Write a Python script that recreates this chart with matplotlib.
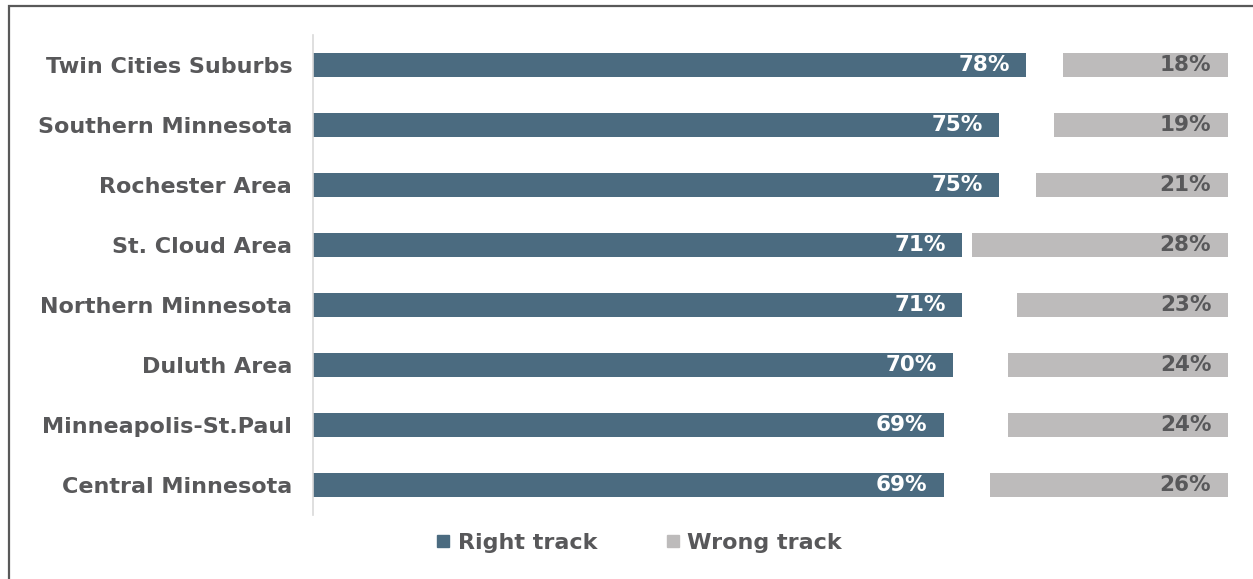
import matplotlib.pyplot as plt
from matplotlib.patches import Rectangle
from matplotlib.lines import Line2D

regions = ["Twin Cities Suburbs", "Southern Minnesota", "Rochester Area", "St. Cloud Area",
           "Northern Minnesota", "Duluth Area", "Minneapolis-St.Paul", "Central Minnesota"]
right_track = [78, 75, 75, 71, 71, 70, 69, 69]
wrong_track = [18, 19, 21, 28, 23, 24, 24, 26]
series_names = ["Right track", "Wrong track"]

BLUE = "#4B6B80"
GREY = "#BDBBBB"
TEXT = "#58585A"

plt.rcParams['font.family'] = ['DejaVu Sans']

fig = plt.figure(figsize=(12.53, 5.79), dpi=100)
ax = fig.add_axes([313 / 1253, 1 - 515 / 579, 914.6 / 1253, 480 / 579])

y = list(range(len(regions)))
bar_h = 0.39
ax.barh(y, right_track, height=bar_h, color=BLUE)
# wrong-track bars sit flush against the 100% end; the gap is "don't know"
wrong_left = [100 - w for w in wrong_track]
ax.barh(y, wrong_track, left=wrong_left, height=bar_h, color=GREY)

for yi, r, w in zip(y, right_track, wrong_track):
    ax.text(r - 1.8, yi, f"{r}%", ha="right", va="center", color="white",
            fontsize=15.5, fontweight="bold")
    ax.text(100 - 1.8, yi, f"{w}%", ha="right", va="center", color=TEXT,
            fontsize=15.5, fontweight="bold")

ax.set_xlim(0, 100)
ax.set_ylim(len(regions) - 0.5, -0.5)
ax.set_yticks(y)
ax.set_yticklabels(regions, fontsize=16, fontweight="bold", color=TEXT)
ax.tick_params(axis="y", length=0, pad=15)
ax.set_xticks([])
for s in ["top", "right", "bottom"]:
    ax.spines[s].set_visible(False)
ax.spines["left"].set_color("#D9D9D9")
ax.spines["left"].set_linewidth(1.2)

handles = [Line2D([], [], marker="s", linestyle="none", markersize=8,
                  markerfacecolor=c, markeredgecolor=c) for c in (BLUE, GREY)]
fig.legend(handles, series_names, loc="center", bbox_to_anchor=(637 / 1253, 1 - 543 / 579),
           ncol=2, frameon=False, handletextpad=0.15, columnspacing=2.9, handlelength=1.0,
           prop={"size": 16, "weight": "bold"}, labelcolor=TEXT)

# outer frame around the figure panel
fig.patches.append(Rectangle((8.5 / 1253, -0.1), 1.2, 1.1 - 6 / 579, transform=fig.transFigure,
                             fill=False, edgecolor="#595959", linewidth=1.6))

fig.savefig("out.png", dpi=100)
